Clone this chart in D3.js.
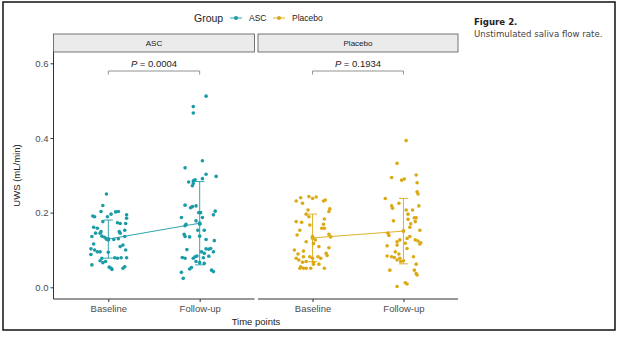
<!DOCTYPE html>
<html>
<head>
<meta charset="utf-8">
<script src="https://cdn.jsdelivr.net/npm/d3@7"></script>
<style>
  body { margin: 0; background: #fff; }
  svg { display: block; font-family: "Liberation Sans", Arial, sans-serif; }
</style>
</head>
<body>
<svg id="chart" width="619" height="337"></svg>
<script>
// time points and groups
let timepoints = ["Baseline", "Follow-up"];
let groups = ["ASC", "Placebo"];
let pvalues = ["0.0004", "0.1934"];
let y_ticks = [0, 0.2, 0.4, 0.6];

// each point is [jitter offset in category units, UWS value]
let asc_baseline = [
  [-0.02, 0.250], [-0.06, 0.219], [-0.15, 0.189], [-0.08, 0.203], [-0.01, 0.189], [0.03, 0.196],
  [0.08, 0.202], [0.11, 0.203], [0.20, 0.194], [0.20, 0.185], [-0.06, 0.176], [-0.12, 0.158],
  [-0.16, 0.161], [0.10, 0.173], [0.13, 0.171], [0.19, 0.171], [0.12, 0.149], [0.13, 0.145],
  [0.18, 0.153], [-0.18, 0.136], [-0.14, 0.145], [-0.09, 0.145], [-0.07, 0.137], [-0.04, 0.134],
  [-0.02, 0.129], [0.00, 0.127], [0.06, 0.128], [0.11, 0.130], [0.18, 0.136], [-0.16, 0.116],
  [0.13, 0.109], [0.16, 0.113], [-0.15, 0.100], [-0.19, 0.103], [-0.12, 0.095], [-0.09, 0.095],
  [0.00, 0.094], [-0.19, 0.088], [0.19, 0.100], [-0.07, 0.078], [0.07, 0.079], [0.10, 0.078],
  [0.14, 0.079], [0.20, 0.079], [-0.09, 0.071], [-0.06, 0.066], [-0.03, 0.069], [-0.18, 0.060],
  [0.03, 0.051], [0.04, 0.048], [0.01, 0.054], [0.16, 0.051], [0.18, 0.055], [-0.08, 0.149],
  [-0.17, 0.191]
];
let asc_followup = [
  [0.07, 0.512], [-0.07, 0.484], [-0.07, 0.467], [0.03, 0.339], [-0.16, 0.320], [0.07, 0.303],
  [0.18, 0.297], [0.03, 0.291], [-0.12, 0.282], [-0.07, 0.285], [-0.05, 0.288], [-0.08, 0.272],
  [-0.07, 0.278], [-0.16, 0.220], [-0.10, 0.213], [-0.08, 0.216], [-0.04, 0.218], [-0.01, 0.200],
  [0.01, 0.200], [0.17, 0.204], [0.15, 0.194], [-0.20, 0.187], [0.03, 0.187], [-0.04, 0.178],
  [0.00, 0.169], [-0.16, 0.165], [-0.15, 0.169], [-0.02, 0.153], [0.05, 0.153], [-0.17, 0.142],
  [-0.16, 0.136], [-0.11, 0.135], [0.00, 0.137], [0.07, 0.128], [0.16, 0.125], [-0.14, 0.101],
  [0.02, 0.095], [0.07, 0.103], [0.10, 0.102], [0.12, 0.104], [0.15, 0.095], [0.05, 0.091],
  [-0.19, 0.080], [-0.16, 0.078], [-0.07, 0.078], [-0.05, 0.082], [-0.03, 0.084], [0.04, 0.079],
  [0.10, 0.083], [0.00, 0.066], [-0.04, 0.069], [0.05, 0.064], [-0.09, 0.053], [-0.11, 0.049],
  [0.13, 0.046], [0.15, 0.042], [-0.20, 0.040], [-0.18, 0.024]
];
let placebo_baseline = [
  [-0.18, 0.231], [-0.13, 0.240], [-0.04, 0.243], [0.00, 0.238], [0.04, 0.242], [0.12, 0.231],
  [0.14, 0.234], [-0.11, 0.225], [0.19, 0.210], [0.18, 0.203], [-0.05, 0.207], [-0.07, 0.196],
  [-0.04, 0.189], [0.13, 0.183], [-0.18, 0.176], [-0.12, 0.174], [-0.03, 0.167], [0.12, 0.169],
  [0.10, 0.158], [0.13, 0.158], [-0.14, 0.153], [-0.17, 0.140], [0.00, 0.136], [0.18, 0.142],
  [0.20, 0.135], [0.03, 0.127], [-0.07, 0.122], [0.01, 0.117], [0.07, 0.109], [0.18, 0.106],
  [-0.20, 0.100], [-0.10, 0.097], [-0.16, 0.089], [0.15, 0.091], [0.16, 0.085], [-0.10, 0.082],
  [-0.18, 0.078], [-0.15, 0.073], [-0.03, 0.082], [0.00, 0.078], [0.06, 0.082], [0.09, 0.078],
  [-0.11, 0.067], [-0.07, 0.069], [0.01, 0.067], [0.01, 0.062], [0.07, 0.062], [-0.13, 0.055],
  [-0.10, 0.051], [-0.07, 0.051], [-0.02, 0.051], [0.13, 0.051], [-0.14, 0.051]
];
let placebo_followup = [
  [0.03, 0.393], [-0.07, 0.332], [-0.13, 0.294], [-0.02, 0.287], [0.01, 0.290], [0.14, 0.301],
  [0.15, 0.280], [0.15, 0.256], [0.16, 0.250], [-0.20, 0.238], [-0.05, 0.225], [-0.13, 0.218],
  [-0.12, 0.212], [0.17, 0.218], [0.03, 0.207], [0.10, 0.207], [0.05, 0.196], [0.14, 0.186],
  [0.12, 0.186], [0.05, 0.182], [-0.11, 0.178], [0.13, 0.176], [0.08, 0.170], [0.07, 0.161],
  [0.18, 0.153], [-0.17, 0.145], [-0.16, 0.139], [0.07, 0.136], [0.04, 0.131], [-0.04, 0.127],
  [-0.07, 0.122], [0.13, 0.127], [0.16, 0.124], [0.19, 0.119], [0.18, 0.116], [-0.18, 0.111],
  [-0.07, 0.113], [0.02, 0.118], [0.04, 0.104], [-0.09, 0.095], [-0.05, 0.089], [-0.18, 0.084],
  [-0.13, 0.082], [-0.10, 0.080], [-0.04, 0.078], [0.11, 0.082], [-0.07, 0.073], [-0.03, 0.069],
  [0.00, 0.071], [0.14, 0.062], [-0.15, 0.046], [0.12, 0.046], [0.14, 0.037], [0.15, 0.033],
  [0.02, 0.012], [0.04, 0.009], [-0.07, 0.002]
];

let series = {
  "ASC": [asc_baseline, asc_followup],
  "Placebo": [placebo_baseline, placebo_followup]
};
let colors = { "ASC": "#1a9ba6", "Placebo": "#dba913" };

let svg = d3.select('#chart');

// outer frame of the figure
svg.append('rect')
  .attr('x', 3).attr('y', 2).attr('width', 612).attr('height', 328)
  .attr('fill', 'none').attr('stroke', '#111').attr('stroke-width', 1.5);

// caption on the right
svg.append('text')
  .attr('x', 474).attr('y', 25)
  .style('font-family', '"DejaVu Sans", sans-serif')
  .style('font-size', '8.6px').style('font-weight', 'bold').attr('fill', '#222')
  .text('Figure 2.');
svg.append('text')
  .attr('x', 474).attr('y', 37)
  .style('font-family', '"DejaVu Sans", sans-serif')
  .style('font-size', '8.6px').attr('fill', '#444')
  .text('Unstimulated saliva flow rate.');

// shared y scale
let PANEL_TOP = 52;
let PANEL_BOTTOM = 299;
let yScale = d3.scaleLinear().domain([0, 0.6]).range([287.3, 63.3]);

// panel x ranges (discrete positions 1,2 with 0.6 padding each side)
let panel_ranges = { "ASC": [53.5, 254.5], "Placebo": [258, 458] };

// y axis
let yAxis = svg.append('g')
  .attr('transform', 'translate(53.5,0)')
  .call(d3.axisLeft(yScale).tickValues(y_ticks).tickFormat(d3.format('.1f')).tickSize(3).tickSizeOuter(0));
yAxis.select('.domain').remove();
yAxis.selectAll('line').attr('stroke', '#333');
yAxis.selectAll('text').attr('fill', '#4d4d4d').style('font-size', '9.5px').attr('x', -5);
svg.append('line')
  .attr('x1', 53.5).attr('x2', 53.5).attr('y1', PANEL_TOP).attr('y2', PANEL_BOTTOM)
  .attr('stroke', '#333').attr('stroke-width', 1);

svg.append('text')
  .attr('transform', 'translate(20,' + ((PANEL_TOP + PANEL_BOTTOM) / 2) + ') rotate(-90)')
  .attr('text-anchor', 'middle')
  .style('font-size', '9.5px').attr('fill', '#222')
  .text('UWS (mL/min)');

svg.append('text')
  .attr('x', 256).attr('y', 325)
  .attr('text-anchor', 'middle')
  .style('font-size', '9.5px').attr('fill', '#222')
  .text('Time points');

groups.forEach(function(g, gi) {
  let xr = panel_ranges[g];
  let xScale = d3.scaleLinear().domain([0.4, 2.6]).range(xr);
  let col = colors[g];

  // strip
  svg.append('rect')
    .attr('x', xr[0]).attr('y', 34).attr('width', xr[1] - xr[0]).attr('height', PANEL_TOP - 34)
    .attr('fill', '#ebebeb').attr('stroke', '#555').attr('stroke-width', 0.8);
  svg.append('text')
    .attr('x', (xr[0] + xr[1]) / 2).attr('y', 46)
    .attr('text-anchor', 'middle')
    .style('font-size', '8px').attr('fill', '#1a1a1a')
    .text(g);

  // x axis
  let xAxis = svg.append('g')
    .attr('transform', 'translate(0,' + PANEL_BOTTOM + ')')
    .call(d3.axisBottom(xScale).tickValues([1, 2]).tickFormat(d => timepoints[d - 1]).tickSize(3).tickSizeOuter(0));
  xAxis.select('.domain').remove();
  xAxis.selectAll('line').attr('stroke', '#333');
  xAxis.selectAll('text').attr('fill', '#4d4d4d').style('font-size', '9.5px').attr('y', 6);
  svg.append('line')
    .attr('x1', xr[0]).attr('x2', xr[1]).attr('y1', PANEL_BOTTOM).attr('y2', PANEL_BOTTOM)
    .attr('stroke', '#333').attr('stroke-width', 1);

  // summary statistics: mean +/- sd
  let stats = series[g].map((pts, i) => {
    let vals = pts.map(p => p[1]);
    let m = d3.mean(vals), s = d3.deviation(vals);
    return { x: i + 1, mean: m, lo: m - s, hi: m + s };
  });

  let pg = svg.append('g');

  // jittered points
  series[g].forEach(function(pts, i) {
    pg.selectAll(null)
      .data(pts)
      .join('circle')
      .attr('cx', d => xScale(i + 1 + d[0]))
      .attr('cy', d => yScale(d[1]))
      .attr('r', 1.8)
      .attr('fill', col);
  });

  // error bars
  let cap = 0.05;
  stats.forEach(function(s) {
    pg.append('line')
      .attr('x1', xScale(s.x)).attr('x2', xScale(s.x))
      .attr('y1', yScale(s.lo)).attr('y2', yScale(s.hi))
      .attr('stroke', col).attr('stroke-width', 0.9);
    [s.lo, s.hi].forEach(v => {
      pg.append('line')
        .attr('x1', xScale(s.x - cap)).attr('x2', xScale(s.x + cap))
        .attr('y1', yScale(v)).attr('y2', yScale(v))
        .attr('stroke', col).attr('stroke-width', 0.9);
    });
  });

  // mean line and mean points
  pg.append('path')
    .datum(stats)
    .attr('d', d3.line().x(d => xScale(d.x)).y(d => yScale(d.mean)))
    .attr('fill', 'none').attr('stroke', col).attr('stroke-width', 0.9);
  pg.selectAll(null)
    .data(stats)
    .join('circle')
    .attr('cx', d => xScale(d.x)).attr('cy', d => yScale(d.mean))
    .attr('r', 2).attr('fill', col);

  // significance bracket
  let by = 71;
  svg.append('path')
    .attr('d', 'M' + xScale(1) + ',' + (by + 3.5) + 'V' + by + 'H' + xScale(2) + 'V' + (by + 3.5))
    .attr('fill', 'none').attr('stroke', '#777').attr('stroke-width', 0.8);
  let pt = svg.append('text')
    .attr('x', (xScale(1) + xScale(2)) / 2).attr('y', 66.5)
    .attr('text-anchor', 'middle')
    .style('font-size', '9.5px').attr('fill', '#222');
  pt.append('tspan').style('font-style', 'italic').text('P');
  pt.append('tspan').text(' = ' + pvalues[gi]);
});

// legend
let legend = svg.append('g');
legend.append('text')
  .attr('x', 194).attr('y', 21.5)
  .style('font-size', '10.5px').attr('fill', '#222')
  .text('Group');
let lx = [230, 273];
groups.forEach(function(g, i) {
  legend.append('line')
    .attr('x1', lx[i]).attr('x2', lx[i] + 12).attr('y1', 18).attr('y2', 18)
    .attr('stroke', colors[g]).attr('stroke-width', 0.9);
  legend.append('circle')
    .attr('cx', lx[i] + 6).attr('cy', 18).attr('r', 2).attr('fill', colors[g]);
  legend.append('text')
    .attr('x', lx[i] + 19).attr('y', 21)
    .style('font-size', '8.5px').attr('fill', '#222')
    .text(g);
});
</script>
</body>
</html>
